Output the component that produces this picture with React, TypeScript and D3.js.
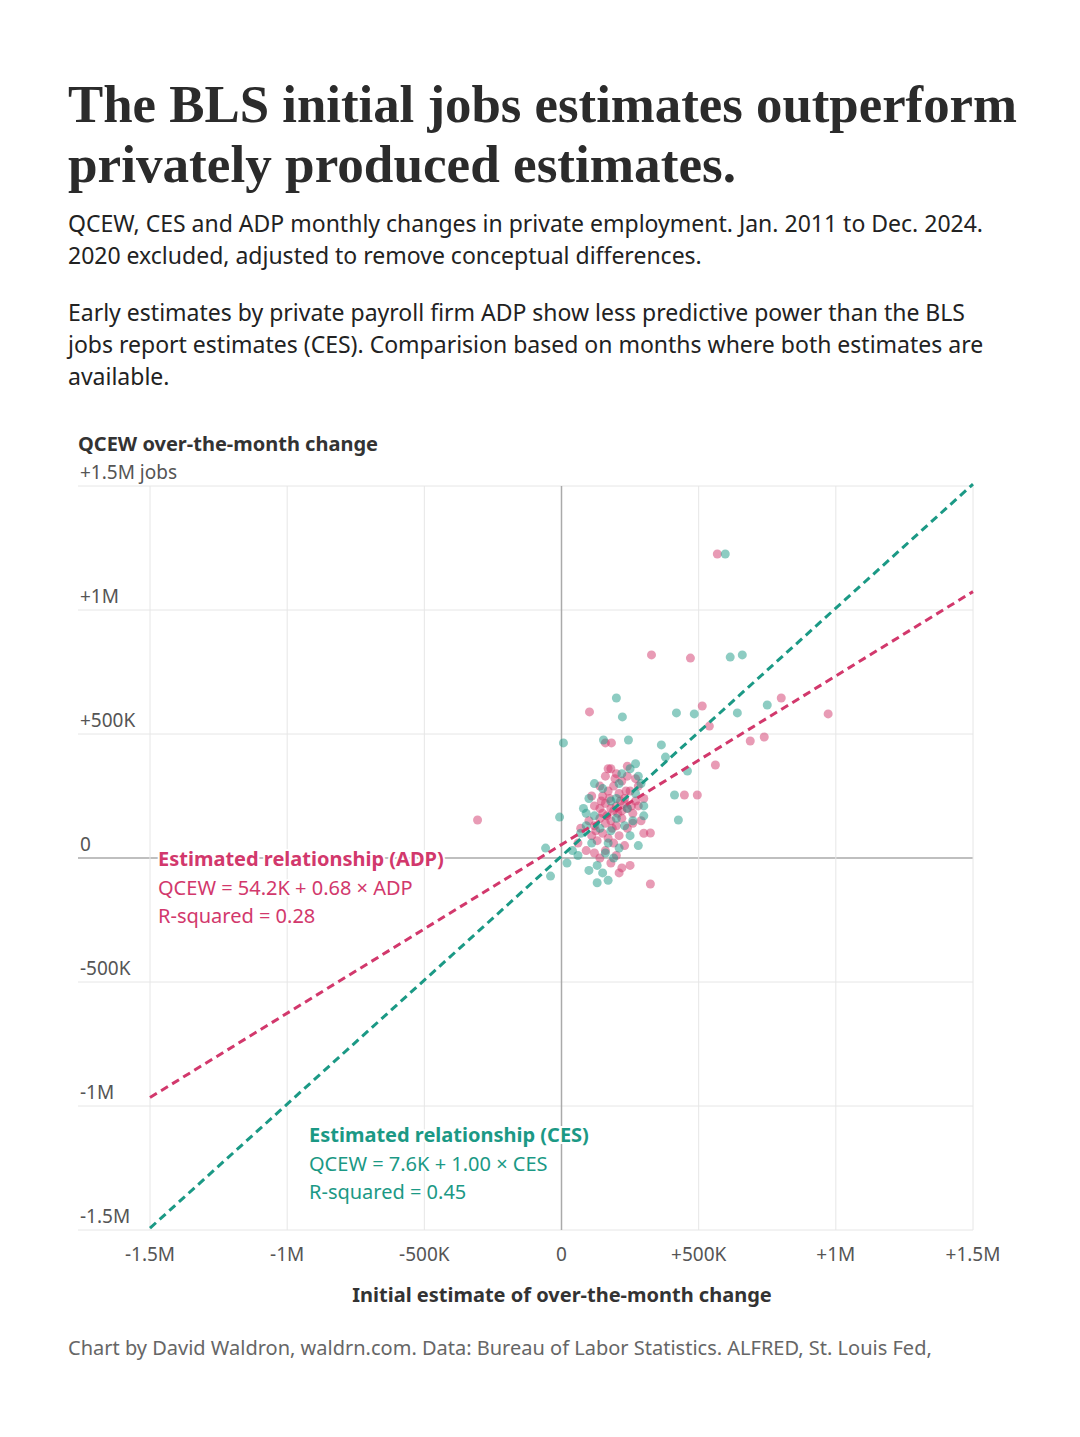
import React from 'react';
import * as d3 from 'd3';

// values in thousands of jobs: [initial estimate, QCEW change]
const adpPoints: [number, number][] = [
  [568, 1226], [328, 819], [470, 806], [102, 589], [-306, 153], [513, 613], [801, 645], [972, 581],
  [739, 488], [688, 472], [561, 375], [495, 254], [448, 254], [324, -105], [324, 101], [539, 532],
  [160, 464], [182, 464], [140, 290], [160, 330], [180, 360], [200, 340], [220, 310], [240, 330],
  [150, 250], [170, 270], [190, 290], [210, 260], [230, 240], [250, 270], [270, 230], [120, 210],
  [140, 200], [160, 220], [180, 200], [200, 210], [220, 190], [240, 200], [260, 180], [280, 210],
  [100, 150], [120, 130], [140, 160], [160, 140], [180, 150], [200, 130], [220, 160], [240, 120],
  [260, 140], [110, 90], [130, 70], [150, 100], [170, 80], [190, 60], [210, 90], [230, 50],
  [120, 20], [140, 0], [160, 30], [180, -20], [200, 10], [220, -40], [250, -30], [90, 30],
  [70, 120], [210, -60], [170, 360], [240, 370], [290, 150], [300, 100], [60, 60], [280, 290],
  [190, 190], [150, 180], [230, 220], [110, 250], [270, 320], [300, 240], [175, 240], [205, 180],
  [185, 120], [215, 230], [165, 170], [235, 270], [195, 320], [145, 230], [255, 210], [125, 110]
];
const cesPoints: [number, number][] = [
  [597, 1226], [615, 810], [659, 819], [200, 645], [222, 569], [7, 464], [641, 585], [750, 617],
  [484, 581], [419, 585], [364, 456], [379, 407], [459, 351], [412, 254], [426, 153], [-7, 165],
  [-58, 40], [-40, -73], [153, 476], [244, 476], [270, 380], [250, 360], [220, 340], [290, 300],
  [270, 260], [300, 210], [100, 240], [80, 200], [120, 170], [90, 130], [140, 120], [70, 100],
  [110, 60], [60, 10], [130, -30], [150, -60], [170, -90], [130, -100], [40, 30], [20, -20],
  [200, 160], [230, 130], [180, 110], [250, 90], [210, 40], [160, 20], [280, 50], [190, 0],
  [150, 280], [200, 240], [240, 200], [100, -50], [260, 150], [120, 300], [180, 230], [300, 170],
  [90, 180], [210, 300], [280, 330], [170, 60]
];
const adpFit = { a: 54.2, b: 0.68 };
const cesFit = { a: 7.6, b: 1.0 };
const xTicks = [-1500, -1000, -500, 0, 500, 1000, 1500];
const xTickLabels = ['-1.5M', '-1M', '-500K', '0', '+500K', '+1M', '+1.5M'];
const yTicks = [1500, 1000, 500, 0, -500, -1000, -1500];
const yTickLabels = ['+1.5M jobs', '+1M', '+500K', '0', '-500K', '-1M', '-1.5M'];

const PINK = '#d2386c';
const TEAL = '#1b9985';
const SANS = '"Noto Sans", "Open Sans", sans-serif';

export default function App() {
  const x = d3.scaleLinear().domain([-1500, 1500]).range([150, 973]);
  const y = d3.scaleLinear().domain([-1500, 1500]).range([1230, 486]);
  const fitLine = (f: { a: number; b: number }) =>
    d3.line<number>().x(d => x(d)).y(d => y(f.a + f.b * d))([-1500, 1500]) as string;

  return (
    <svg width={1080} height={1437} style={{ position: 'absolute', left: 0, top: 0, background: '#fff' }}>
      <g fontFamily='"Liberation Serif", "DejaVu Serif", serif' fontWeight="bold" fontSize={52} fill="#2b2b2b">
        <text x={68} y={122} textLength={949} lengthAdjust="spacingAndGlyphs">The BLS initial jobs estimates outperform</text>
        <text x={68} y={182} textLength={668} lengthAdjust="spacingAndGlyphs">privately produced estimates.</text>
      </g>
      <g fontFamily={SANS} fontSize={23} fill="#222">
        <text x={68} y={232}>QCEW, CES and ADP monthly changes in private employment. Jan. 2011 to Dec. 2024.</text>
        <text x={68} y={264}>2020 excluded, adjusted to remove conceptual differences.</text>
        <text x={68} y={321}>Early estimates by private payroll firm ADP show less predictive power than the BLS</text>
        <text x={68} y={353}>jobs report estimates (CES). Comparision based on months where both estimates are</text>
        <text x={68} y={385}>available.</text>
      </g>
      <text x={78} y={451} fontFamily={SANS} fontSize={20} fontWeight="bold" fill="#333">QCEW over-the-month change</text>

      {yTicks.map((t, i) => (
        <g key={t}>
          <line x1={78} x2={973} y1={y(t)} y2={y(t)} stroke={t === 0 ? '#aaa' : '#e6e6e6'} strokeWidth={t === 0 ? 1.5 : 1} />
          <text x={80} y={y(t) - 7} fontFamily={SANS} fontSize={19} fill="#555">{yTickLabels[i]}</text>
        </g>
      ))}
      {xTicks.map(t => (
        <line key={t} x1={x(t)} x2={x(t)} y1={486} y2={1230} stroke={t === 0 ? '#aaa' : '#e6e6e6'} strokeWidth={t === 0 ? 1.5 : 1} />
      ))}
      {xTicks.map((t, i) => (
        <text key={t} x={x(t)} y={1261} textAnchor="middle" fontFamily={SANS} fontSize={19} fill="#555">{xTickLabels[i]}</text>
      ))}
      <text x={562} y={1302} textAnchor="middle" fontFamily={SANS} fontSize={20} fontWeight="bold" fill="#333">Initial estimate of over-the-month change</text>

      {adpPoints.map((p, i) => (
        <circle key={'a' + i} cx={x(p[0])} cy={y(p[1])} r={4.5} fill={PINK} fillOpacity={0.5} />
      ))}
      {cesPoints.map((p, i) => (
        <circle key={'c' + i} cx={x(p[0])} cy={y(p[1])} r={4.5} fill={TEAL} fillOpacity={0.5} />
      ))}

      <path d={fitLine(adpFit)} stroke={PINK} strokeWidth={3} strokeDasharray="8,5" fill="none" />
      <path d={fitLine(cesFit)} stroke={TEAL} strokeWidth={3} strokeDasharray="8,5" fill="none" />

      <g fontFamily={SANS} fontSize={20} fill={PINK} stroke="#fff" strokeWidth={4} paintOrder="stroke">
        <text x={158} y={866} fontWeight="bold">Estimated relationship (ADP)</text>
        <text x={158} y={895}>QCEW = 54.2K + 0.68 × ADP</text>
        <text x={158} y={923}>R-squared = 0.28</text>
      </g>
      <g fontFamily={SANS} fontSize={20} fill={TEAL} stroke="#fff" strokeWidth={4} paintOrder="stroke">
        <text x={309} y={1142} fontWeight="bold">Estimated relationship (CES)</text>
        <text x={309} y={1171}>QCEW = 7.6K + 1.00 × CES</text>
        <text x={309} y={1199}>R-squared = 0.45</text>
      </g>

      <text x={68} y={1355} fontFamily={SANS} fontSize={20} fill="#666">Chart by David Waldron, waldrn.com. Data: Bureau of Labor Statistics. ALFRED, St. Louis Fed,</text>
    </svg>
  );
}
